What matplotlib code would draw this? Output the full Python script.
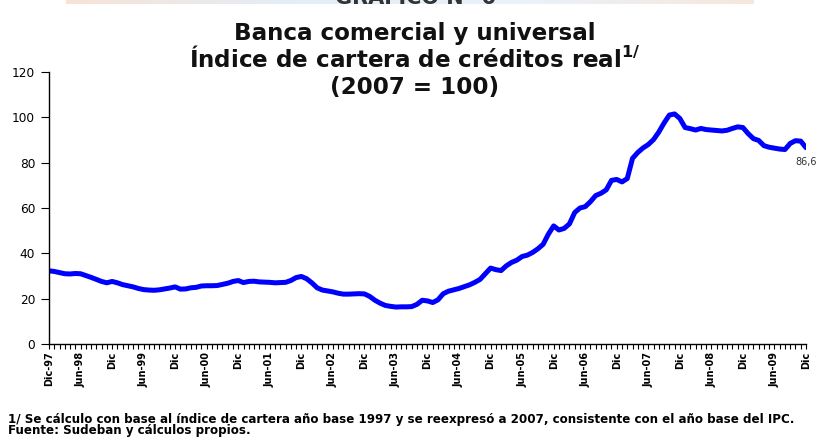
import matplotlib
matplotlib.use("Agg")
import matplotlib.pyplot as plt
import numpy as np

plt.rcParams['font.family'] = ['DejaVu Sans']
plt.rcParams['mathtext.fontset'] = 'dejavusans'

# Monthly real credit-portfolio index, Dec-1997 .. Dec-2009 (2007 = 100)
indice = [
    32.3, 32.0, 31.5, 31.0, 30.9, 31.1, 31.0, 30.2, 29.4, 28.5, 27.6, 27.0,   # Dic-97 .. Nov-98
    27.6, 27.0, 26.2, 25.7, 25.2, 24.5, 24.0, 23.8, 23.7, 23.9, 24.3, 24.7,   # Dic-98 .. Nov-99
    25.2, 24.2, 24.3, 24.8, 25.0, 25.6, 25.7, 25.7, 25.8, 26.3, 26.8, 27.6,   # Dic-99 .. Nov-00
    28.0, 27.1, 27.6, 27.7, 27.4, 27.3, 27.2, 27.0, 27.1, 27.2, 28.0, 29.3,   # Dic-00 .. Nov-01
    29.8, 28.8, 27.0, 24.8, 23.8, 23.4, 23.0, 22.4, 22.0, 22.0, 22.1, 22.2,   # Dic-01 .. Nov-02
    22.1, 21.0, 19.3, 18.0, 17.0, 16.6, 16.3, 16.4, 16.4, 16.5, 17.5, 19.3,   # Dic-02 .. Nov-03
    19.0, 18.3, 19.5, 22.2, 23.3, 23.9, 24.5, 25.3, 26.1, 27.2, 28.5, 31.0,   # Dic-03 .. Nov-04
    33.5, 32.8, 32.4, 34.5, 36.0, 37.0, 38.6, 39.2, 40.4, 42.0, 44.0, 48.5,   # Dic-04 .. Nov-05
    52.1, 50.3, 51.0, 53.0, 58.0, 60.0, 60.6, 62.8, 65.5, 66.5, 68.0, 72.2,   # Dic-05 .. Nov-06
    72.6, 71.5, 73.0, 81.9, 84.5, 86.5, 88.0, 90.2, 93.5, 97.5, 101.0, 101.5, # Dic-06 .. Nov-07
    99.5, 95.5, 95.0, 94.4, 95.1, 94.6, 94.4, 94.2, 94.0, 94.3, 95.1, 95.8,   # Dic-07 .. Nov-08
    95.5, 92.8, 90.6, 89.8, 87.5, 86.8, 86.4, 86.0, 85.8, 88.5, 89.7, 89.5,   # Dic-08 .. Nov-09
    86.6,                                                                     # Dic-09
]

tick_labels = ["Dic-97", "Jun-98", "Dic", "Jun-99", "Dic", "Jun-00", "Dic",
               "Jun-01", "Dic", "Jun-02", "Dic", "Jun-03", "Dic", "Jun-04",
               "Dic", "Jun-05", "Dic", "Jun-06", "Dic", "Jun-07", "Dic",
               "Jun-08", "Dic", "Jun-09", "Dic"]
y_ticks = [0, 20, 40, 60, 80, 100, 120]
ultimo_valor = "86,6"

W, H = 819, 440
fig = plt.figure(figsize=(W / 100, H / 100), dpi=100)
fig.patch.set_facecolor("white")

# faint decorative band along the top edge
band = fig.add_axes([0.08, 1 - 4 / H, 0.84, 4 / H])
grad = np.linspace(0, 1, 256).reshape(1, -1)
band.imshow(grad, aspect="auto", cmap=matplotlib.colors.LinearSegmentedColormap.from_list(
    "b", ["#f7e3d6", "#e3eef7", "#eaf2fa", "#f7e7dc"]), extent=[0, 1, 0, 1])
band.axis("off")

ax = fig.add_axes([49 / W, 96 / H, (806 - 49) / W, (344 - 72) / H])
x = np.arange(len(indice))
ax.plot(x, indice, color="#0000ff", linewidth=3.6, solid_capstyle="round",
        solid_joinstyle="round")

ax.set_xlim(0, len(indice) - 1)
ax.set_ylim(0, 120)
ax.set_yticks(y_ticks)
ax.set_yticklabels([str(v) for v in y_ticks], fontsize=8.7)
ax.set_xticks(np.arange(0, len(indice), 6))
ax.set_xticklabels(tick_labels, rotation=90, fontsize=7, fontweight="bold")
ax.set_xticks(np.arange(0, len(indice)), minor=True)
ax.tick_params(axis="x", which="both", direction="out", length=3.5, width=0.8,
               pad=2)
ax.tick_params(axis="y", direction="out", length=5.5, width=0.8, pad=4.5)
for s in ("top", "right"):
    ax.spines[s].set_visible(False)
for s in ("left", "bottom"):
    ax.spines[s].set_linewidth(1.0)

ax.annotate(ultimo_valor, xy=(x[-1], indice[-1]), xytext=(-8, -10),
            textcoords="offset points", fontsize=7, color="#333333",
            ha="left", va="center", annotation_clip=False)

# titles
cx = 415 / W
fig.text(cx, 1 - 4 / H, "GRÁFICO N° 6", ha="center", va="baseline",
         fontsize=15, fontweight="bold", color="#333333")
fig.text(cx, 1 - 40 / H, "Banca comercial y universal", ha="center",
         va="baseline", fontsize=16.6, fontweight="bold", color="#111111")
fig.text(cx, 1 - 67 / H, r"Índice de cartera de créditos real$^{\mathbf{1/}}$",
         ha="center", va="baseline", fontsize=16.6, fontweight="bold",
         color="#111111")
fig.text(cx, 1 - 94 / H, "(2007 = 100)", ha="center", va="baseline",
         fontsize=16.6, fontweight="bold", color="#111111")

# footnotes
fig.text(8 / W, 1 - 422.5 / H,
         "1/ Se cálculo con base al índice de cartera año base 1997 y se "
         "reexpresó a 2007, consistente con el año base del IPC.",
         ha="left", va="baseline", fontsize=8.55, fontweight="bold")
fig.text(8 / W, 1 - 434 / H, "Fuente: Sudeban y cálculos propios.",
         ha="left", va="baseline", fontsize=8.55, fontweight="bold")

fig.savefig("out.png", dpi=100)
